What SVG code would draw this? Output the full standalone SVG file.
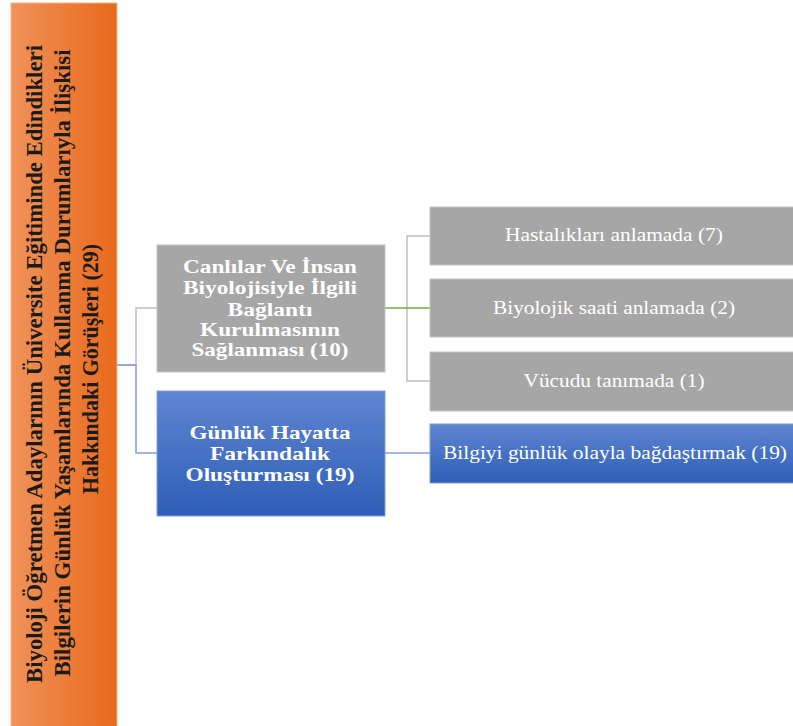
<svg xmlns="http://www.w3.org/2000/svg" width="793" height="726" viewBox="0 0 793 726">
<defs>
<linearGradient id="gOrange" x1="0" y1="0" x2="1" y2="0">
<stop offset="0" stop-color="#F0925A"/>
<stop offset="1" stop-color="#E8691B"/>
</linearGradient>
<linearGradient id="gBlue" x1="0" y1="0" x2="0" y2="1">
<stop offset="0" stop-color="#5E86D1"/>
<stop offset="1" stop-color="#2F5EB7"/>
</linearGradient>
<style>
.gray{fill:#A6A6A6;stroke:#C4C4C4;stroke-width:1}
.blue{fill:url(#gBlue);stroke:#7E9ED8;stroke-width:1}
.t{font-family:"Liberation Serif","Times New Roman",serif;fill:#FFFFFF;text-anchor:middle}
.tb{font-weight:bold;font-size:19px}
.tr{font-size:19px}
.root{font-family:"Liberation Serif","Times New Roman",serif;font-weight:bold;font-size:24px;fill:#1a1a1a;text-anchor:middle}
.cg{fill:none;stroke:#BFBFBF;stroke-width:1.5}
.cb{fill:none;stroke:#7F9FD8;stroke-width:1.5}
.cgr{fill:none;stroke:#70AD47;stroke-width:1.5}
</style>
</defs>
<rect width="793" height="726" fill="#FFFFFF"/>
<g id="connectors">
<polyline class="cg" points="117,365 136,365 136,308 157,308"/>
<polyline class="cb" points="117,365 136,365 136,453 157,453"/>
<polyline class="cg" points="430,236 407,236 407,381 430,381"/>
<line class="cgr" x1="385" y1="308" x2="430" y2="308"/>
<line class="cb" x1="385" y1="453" x2="430" y2="453"/>
</g>
<g id="root">
<rect x="11" y="3" width="106" height="730" fill="url(#gOrange)" stroke="#F4B183" stroke-width="1"/>
<g transform="rotate(-90)">
<text class="root" x="-364" y="42" textLength="638" lengthAdjust="spacingAndGlyphs">Biyoloji Öğretmen Adaylarının Üniversite Eğitiminde Edindikleri</text>
<text class="root" x="-363" y="70" textLength="627" lengthAdjust="spacingAndGlyphs">Bilgilerin Günlük Yaşamlarında Kullanma Durumlarıyla İlişkisi</text>
<text class="root" x="-369" y="98" textLength="250" lengthAdjust="spacingAndGlyphs">Hakkındaki Görüşleri (29)</text>
</g>
</g>
<g id="n1">
<rect class="gray" x="157" y="245" width="228" height="127"/>
<text class="t tb" x="270" y="273" textLength="174" lengthAdjust="spacingAndGlyphs">Canlılar Ve İnsan</text>
<text class="t tb" x="270" y="294" textLength="174" lengthAdjust="spacingAndGlyphs">Biyolojisiyle İlgili</text>
<text class="t tb" x="270" y="316" textLength="85" lengthAdjust="spacingAndGlyphs">Bağlantı</text>
<text class="t tb" x="270" y="336" textLength="140" lengthAdjust="spacingAndGlyphs">Kurulmasının</text>
<text class="t tb" x="270" y="356" textLength="157" lengthAdjust="spacingAndGlyphs">Sağlanması (10)</text>
</g>
<g id="n2">
<rect class="blue" x="157" y="391" width="228" height="125"/>
<text class="t tb" x="270" y="439" textLength="161" lengthAdjust="spacingAndGlyphs">Günlük Hayatta</text>
<text class="t tb" x="270" y="460" textLength="120" lengthAdjust="spacingAndGlyphs">Farkındalık</text>
<text class="t tb" x="270" y="481" textLength="169" lengthAdjust="spacingAndGlyphs">Oluşturması (19)</text>
</g>
<g id="n3">
<rect class="gray" x="430" y="207" width="368" height="58"/>
<text class="t tr" x="614" y="241" textLength="218" lengthAdjust="spacingAndGlyphs">Hastalıkları anlamada (7)</text>
</g>
<g id="n4">
<rect class="gray" x="430" y="279" width="368" height="58"/>
<text class="t tr" x="614" y="314" textLength="242" lengthAdjust="spacingAndGlyphs">Biyolojik saati anlamada (2)</text>
</g>
<g id="n5">
<rect class="gray" x="430" y="352" width="368" height="59"/>
<text class="t tr" x="614" y="387" textLength="181" lengthAdjust="spacingAndGlyphs">Vücudu tanımada (1)</text>
</g>
<g id="n6">
<rect class="blue" x="430" y="424" width="368" height="59"/>
<text class="t tr" x="615" y="459" textLength="344" lengthAdjust="spacingAndGlyphs">Bilgiyi günlük olayla bağdaştırmak (19)</text>
</g>
</svg>
